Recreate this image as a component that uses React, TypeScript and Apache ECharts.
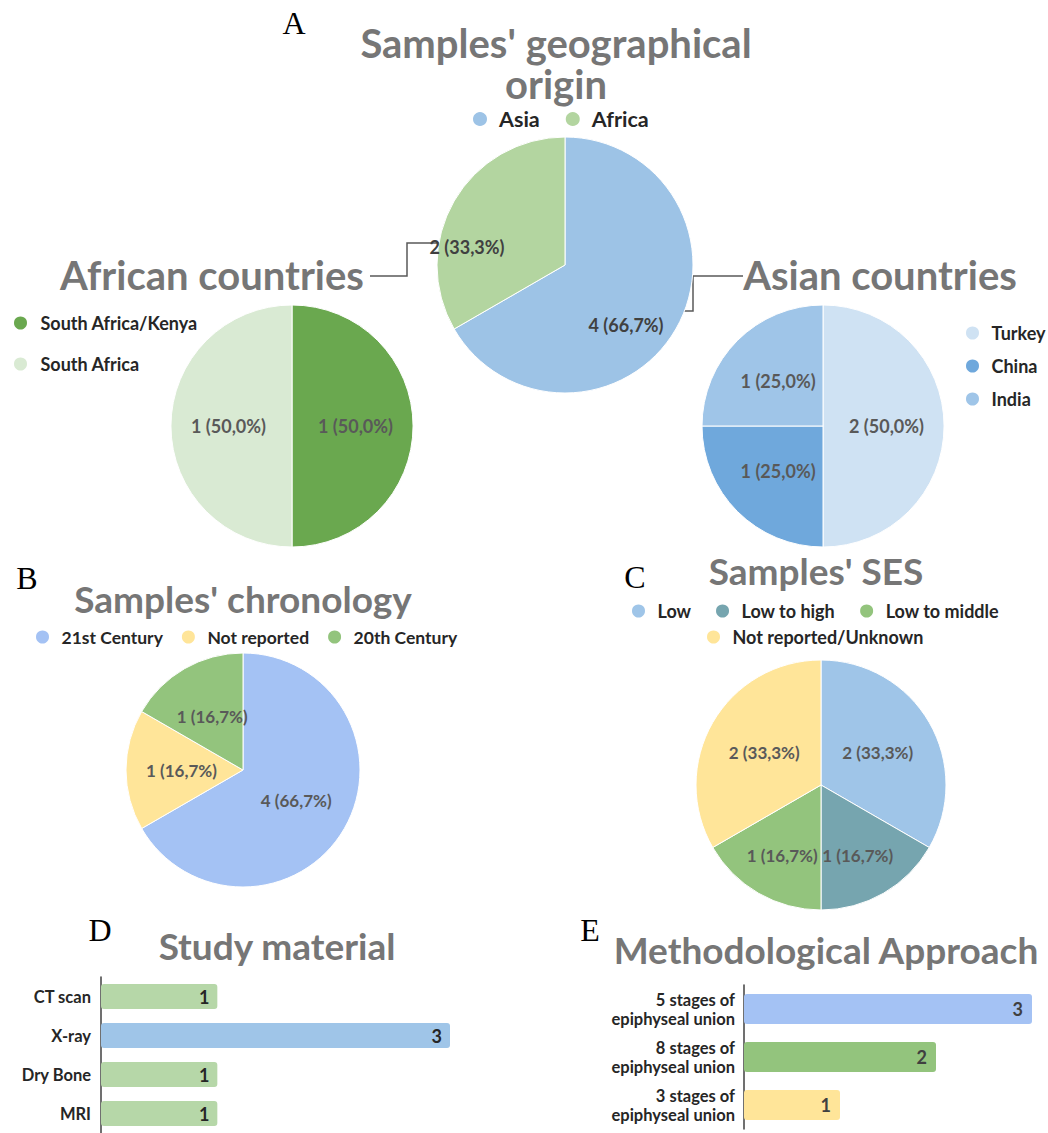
import React, { useEffect, useRef } from "react";
import * as echarts from "echarts";

// ---------- data ----------
const originNames = ["Asia", "Africa"];
const originValues = [4, 2];
const originColors = ["#9DC3E6", "#B3D5A0"];

const africanNames = ["South Africa/Kenya", "South Africa"];
const africanValues = [1, 1];
const africanColors = ["#6AA84F", "#D9EAD3"];

const asianNames = ["Turkey", "China", "India"];
const asianValues = [2, 1, 1];
const asianColors = ["#CFE2F3", "#6FA8DC", "#9FC5E8"];

const chronoNames = ["21st Century", "Not reported", "20th Century"];
const chronoValues = [4, 1, 1];
const chronoColors = ["#A4C2F4", "#FFE599", "#93C47D"];

const sesNames = ["Low", "Low to high", "Low to middle", "Not reported/Unknown"];
const sesValues = [2, 1, 1, 2];
const sesColors = ["#9FC5E8", "#76A5AF", "#93C47D", "#FFE599"];

const materialCategories = ["CT scan", "X-ray", "Dry Bone", "MRI"];
const materialValues = [1, 3, 1, 1];
const materialColors = ["#B6D7A8", "#9FC5E8", "#B6D7A8", "#B6D7A8"];

const methodCategories = [
  "5 stages of\nepiphyseal union",
  "8 stages of\nepiphyseal union",
  "3 stages of\nepiphyseal union",
];
const methodValues = [3, 2, 1];
const methodColors = ["#A4C2F4", "#93C47D", "#FFE599"];

// ---------- styles ----------
const FONT = "Lato, 'Open Sans', sans-serif";
const TITLE_COLOR = "#767676";
const legendText = (size: number) => ({
  fontFamily: FONT,
  fontSize: size,
  fontWeight: "bold" as const,
  color: "#262626",
});

const pctFmt = (p: any) => `${p.value} (${Number(p.percent).toFixed(1).replace(".", ",")}%)`;

const pieLabel = {
  show: true,
  position: "inside",
  formatter: pctFmt,
  fontFamily: FONT,
  fontSize: 17,
  fontWeight: "bold",
  color: "#595959",
};

function pieData(names: string[], values: number[], colors: string[]) {
  return names.map((n, i) => ({ name: n, value: values[i], itemStyle: { color: colors[i] } }));
}

function barData(values: number[], colors: string[]) {
  return values.map((v, i) => ({ value: v, itemStyle: { color: colors[i] } }));
}

function titleText(text: string, x: number, y: number, size: number, lineHeight?: number) {
  return {
    type: "text",
    x,
    y,
    style: {
      text,
      textAlign: "center",
      textVerticalAlign: "middle",
      fontFamily: FONT,
      fontSize: size,
      fontWeight: "bold",
      fill: TITLE_COLOR,
      ...(lineHeight ? { lineHeight } : {}),
    },
  };
}

function letter(text: string, x: number, y: number) {
  return {
    type: "text",
    x,
    y,
    style: {
      text,
      textAlign: "center",
      textVerticalAlign: "middle",
      fontFamily: "'Liberation Serif', 'DejaVu Serif', serif",
      fontSize: 32,
      fill: "#000",
    },
  };
}

function connector(points: number[][]) {
  return {
    type: "polyline",
    shape: { points },
    style: { stroke: "#595959", lineWidth: 1.5, fill: null },
  };
}

function legend(data: string[], left: number, top: number, extra: any) {
  return {
    data,
    left,
    top,
    padding: 0,
    itemWidth: 28,
    itemHeight: 15,
    icon: "circle",
    ...extra,
  };
}

export default function App() {
  const ref = useRef<HTMLDivElement>(null);

  useEffect(() => {
    if (!ref.current) return;
    const chart = echarts.init(ref.current, null, { renderer: "svg" });

    const option: any = {
      animation: false,
      backgroundColor: "#ffffff",
      legend: [
        legend(originNames, 471, 108, { itemGap: 24, itemHeight: 16, textStyle: legendText(21.5) }),
        legend(africanNames, 12, 314, {
          orient: "vertical",
          itemWidth: 30,
          itemGap: 23,
          textStyle: legendText(18),
        }),
        legend(asianNames, 964, 324, { orient: "vertical", itemGap: 15, textStyle: legendText(18) }),
        legend(chronoNames, 34, 628, { itemGap: 17, textStyle: legendText(17.5) }),
        legend(sesNames.slice(0, 3), 630, 602, { itemGap: 23, textStyle: legendText(18) }),
        legend(sesNames.slice(3), 705, 628, { itemGap: 18, textStyle: legendText(18) }),
      ],
      grid: [
        { left: 101, top: 977, width: 349, height: 160, containLabel: false },
        { left: 744, top: 985, width: 288, height: 144, containLabel: false },
      ],
      xAxis: [
        { type: "value", gridIndex: 0, min: 0, max: 3, show: false },
        { type: "value", gridIndex: 1, min: 0, max: 3, show: false },
      ],
      yAxis: [
        {
          type: "category",
          gridIndex: 0,
          data: materialCategories,
          inverse: true,
          axisLine: { show: true, lineStyle: { color: "#404040", width: 1.5 } },
          axisTick: { show: false },
          axisLabel: { fontFamily: FONT, fontSize: 16.5, fontWeight: "bold", color: "#262626", margin: 10 },
        },
        {
          type: "category",
          gridIndex: 1,
          data: methodCategories,
          inverse: true,
          axisLine: { show: true, lineStyle: { color: "#404040", width: 1.5 } },
          axisTick: { show: false },
          axisLabel: {
            fontFamily: FONT,
            fontSize: 16.5,
            fontWeight: "bold",
            color: "#262626",
            margin: 9,
            lineHeight: 19,
            align: "right",
          },
        },
      ],
      series: [
        {
          type: "pie",
          name: "origin",
          center: [565, 265],
          radius: 128,
          data: pieData(originNames, originValues, originColors),
          itemStyle: { borderColor: "#fff", borderWidth: 1 },
          label: { ...pieLabel, fontSize: 18, color: "#404040" },
          labelLine: { show: false },
          labelLayout: (p: any) => (p.dataIndex === 1 ? { dx: -40, dy: 15 } : { dx: 3, dy: 26 }),
          emphasis: { disabled: true },
        },
        {
          type: "pie",
          name: "african",
          center: [292, 426],
          radius: 121,
          data: pieData(africanNames, africanValues, africanColors),
          itemStyle: { borderColor: "#fff", borderWidth: 1 },
          label: { ...pieLabel, fontSize: 18 },
          labelLine: { show: false },
          emphasis: { disabled: true },
        },
        {
          type: "pie",
          name: "asian",
          center: [823, 426],
          radius: 121,
          data: pieData(asianNames, asianValues, asianColors),
          itemStyle: { borderColor: "#fff", borderWidth: 1 },
          label: { ...pieLabel, fontSize: 18 },
          labelLine: { show: false },
          emphasis: { disabled: true },
        },
        {
          type: "pie",
          name: "chronology",
          center: [243, 770],
          radius: 117,
          data: pieData(chronoNames, chronoValues, chronoColors),
          itemStyle: { borderColor: "#fff", borderWidth: 1 },
          label: pieLabel,
          labelLine: { show: false },
          emphasis: { disabled: true },
        },
        {
          type: "pie",
          name: "ses",
          center: [821, 785],
          radius: 125,
          avoidLabelOverlap: false,
          data: pieData(sesNames, sesValues, sesColors),
          itemStyle: { borderColor: "#fff", borderWidth: 1 },
          label: pieLabel,
          labelLine: { show: false },
          labelLayout: (p: any) =>
            p.dataIndex === 1
              ? { dx: 4, dy: 14, hideOverlap: false }
              : p.dataIndex === 2
              ? { dx: -6, dy: 14, hideOverlap: false }
              : { hideOverlap: false },
          emphasis: { disabled: true },
        },
        {
          type: "bar",
          name: "material",
          xAxisIndex: 0,
          yAxisIndex: 0,
          barWidth: 25,
          data: barData(materialValues, materialColors),
          itemStyle: { borderRadius: 3 },
          label: {
            show: true,
            position: "insideRight",
            distance: 8,
            fontFamily: FONT,
            fontSize: 18,
            fontWeight: "bold",
            color: "#262626",
          },
          emphasis: { disabled: true },
        },
        {
          type: "bar",
          name: "method",
          xAxisIndex: 1,
          yAxisIndex: 1,
          barWidth: 30,
          data: barData(methodValues, methodColors),
          itemStyle: { borderRadius: 3 },
          label: {
            show: true,
            position: "insideRight",
            distance: 9,
            fontFamily: FONT,
            fontSize: 18,
            fontWeight: "bold",
            color: "#404040",
          },
          emphasis: { disabled: true },
        },
      ],
      graphic: [
        letter("A", 294, 23),
        letter("B", 27, 578),
        letter("C", 635, 577),
        letter("D", 100, 930),
        letter("E", 590, 930),
        titleText("Samples' geographical", 556, 43, 40, 38),
        titleText("origin", 556, 84, 40, 38),
        titleText("African countries", 212, 275, 40),
        titleText("Asian countries", 880, 275, 40),
        titleText("Samples' chronology", 243, 598, 37),
        titleText("Samples' SES", 816, 570, 37),
        titleText("Study material", 277, 945, 37),
        titleText("Methodological Approach", 826, 949, 37),
        connector([
          [370, 276],
          [407, 276],
          [407, 243],
          [500, 243],
        ]),
        connector([
          [628, 311],
          [693, 311],
          [693, 276],
          [743, 276],
        ]),
      ],
    };

    chart.setOption(option);
    return () => chart.dispose();
  }, []);

  return (
    <div
      ref={ref}
      style={{ position: "absolute", left: 0, top: 0, width: 1048, height: 1133 }}
    />
  );
}
